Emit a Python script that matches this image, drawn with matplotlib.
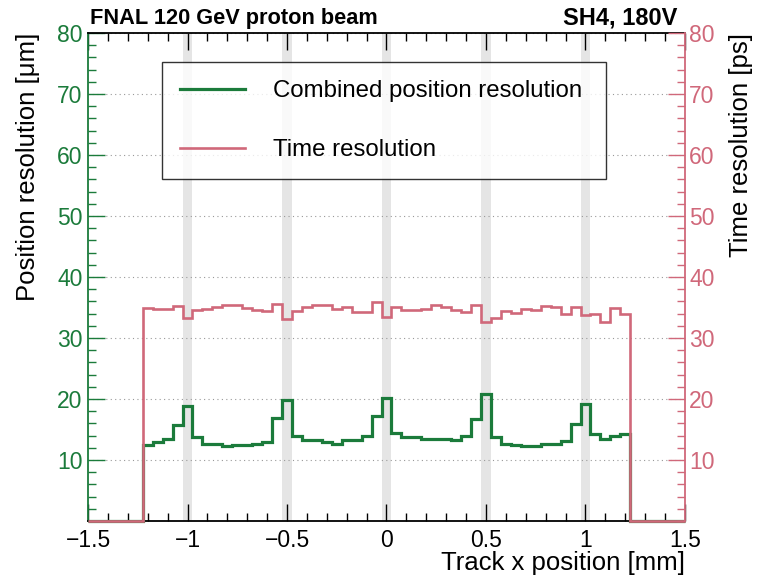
import matplotlib.pyplot as plt
import numpy as np
from matplotlib.ticker import MultipleLocator
from matplotlib.lines import Line2D

plt.rcParams['font.family'] = ['Liberation Sans', 'DejaVu Sans']

# bins of 0.05 mm from -1.225 to 1.225, zero outside
bin_lo = -1.225
bin_w = 0.05

pos_res = [12.5, 12.9, 13.4, 15.8, 18.9, 13.8, 12.6, 12.7, 12.35, 12.5,
           12.5, 12.7, 12.9, 16.9, 19.8, 14.0, 13.3, 13.3, 12.95, 12.7,
           13.2, 13.3, 13.9, 17.2, 20.2, 14.5, 13.8, 13.75, 13.5, 13.4,
           13.4, 13.3, 13.9, 16.7, 20.75, 13.8, 12.6, 12.5, 12.35, 12.3,
           12.6, 12.7, 13.15, 15.95, 19.1, 14.25, 13.4, 14.0, 14.2]

time_res = [34.85, 34.7, 34.7, 35.2, 33.35, 34.65, 34.75, 35.05, 35.45, 35.4,
            34.85, 34.55, 34.5, 35.6, 33.1, 34.5, 35.1, 35.35, 35.4, 34.7,
            35.0, 34.25, 34.25, 35.9, 33.4, 35.0, 34.6, 34.6, 34.75, 35.35,
            35.0, 34.6, 34.25, 35.4, 32.7, 33.2, 34.4, 34.15, 34.75, 34.6,
            35.2, 35.0, 33.9, 35.1, 33.8, 34.0, 32.7, 34.85, 34.0]

labels = ['Combined position resolution', 'Time resolution']
gap_centers = [-1.0, -0.5, 0.0, 0.5, 1.0]
gap_width = 0.05

green = '#1b7b3b'
pink = '#d0687a'

n = len(pos_res)
edges = np.concatenate([[-1.5], bin_lo + bin_w * np.arange(n + 1), [1.5]])
pos_vals = np.concatenate([[0], pos_res, [0]])
time_vals = np.concatenate([[0], time_res, [0]])

fig = plt.figure(figsize=(7.6, 5.79), dpi=100)
ax = fig.add_axes([0.1158, 0.1002, 0.7855, 0.8428])
ax2 = ax.twinx()

for c in gap_centers:
    ax.axvspan(c - gap_width / 2, c + gap_width / 2, color='#e5e5e5', lw=0, zorder=0)

ax.yaxis.grid(True, linestyle=(0, (1, 3)), color='#999999', lw=0.8)
ax.set_axisbelow(True)

ax.stairs(pos_vals, edges, color=green, lw=2.3, clip_on=False, zorder=3)
ax2.stairs(time_vals, edges, color=pink, lw=1.9, clip_on=False, zorder=3)

ax.set_xlim(-1.5, 1.5)
ax.set_ylim(0, 80)
ax2.set_ylim(0, 80)

ax.set_xticks([-1.5, -1, -0.5, 0, 0.5, 1, 1.5])
ax.set_xticklabels(['\u22121.5', '\u22121', '\u22120.5', '0', '0.5', '1', '1.5'])
ax.xaxis.set_minor_locator(MultipleLocator(0.1))

yt = list(range(10, 81, 10))
for a in (ax, ax2):
    a.set_yticks(yt)
    a.set_yticklabels([str(v) for v in yt])
    a.yaxis.set_minor_locator(MultipleLocator(2))

fs_tick = 16.5
ax.tick_params(axis='x', which='both', direction='in', top=True, labelsize=fs_tick, pad=6, width=1)
ax.tick_params(axis='x', which='major', length=12)
ax.tick_params(axis='x', which='minor', length=6)
ax.tick_params(axis='y', which='both', direction='in', colors=green, labelsize=fs_tick, pad=4, width=1)
ax.tick_params(axis='y', which='major', length=12)
ax.tick_params(axis='y', which='minor', length=6)
ax2.tick_params(axis='y', which='both', direction='in', colors=pink, labelsize=fs_tick, pad=3, width=1)
ax2.tick_params(axis='y', which='major', length=12)
ax2.tick_params(axis='y', which='minor', length=6)

for s in ('top', 'bottom'):
    ax.spines[s].set_linewidth(1.3)
ax.spines['left'].set_color(green)
ax.spines['left'].set_linewidth(1.3)
ax.spines['right'].set_visible(False)
ax2.spines['left'].set_visible(False)
ax2.spines['top'].set_visible(False)
ax2.spines['bottom'].set_visible(False)
ax2.spines['right'].set_color(pink)
ax2.spines['right'].set_linewidth(1.3)

ax.set_ylabel('Position resolution [\u03bcm]', fontsize=18.5, loc='top')
ax.yaxis.set_label_coords(-0.08, 1.0)
ax2.set_ylabel('Time resolution [ps]', fontsize=18.5, loc='top', rotation=90)
ax2.yaxis.set_label_coords(1.074, 1.0)
ax.set_xlabel('Track x position [mm]', fontsize=18.5, loc='right')
ax.xaxis.set_label_coords(1.0, -0.062)

ax.text(0.004, 1.008, 'FNAL 120 GeV proton beam', transform=ax.transAxes,
        fontsize=15.7, fontweight='bold', ha='left', va='bottom')
ax.text(0.987, 1.008, 'SH4, 180V', transform=ax.transAxes,
        fontsize=17, fontweight='bold', ha='right', va='bottom')

handles = [Line2D([], [], color=green, lw=2.3), Line2D([], [], color=pink, lw=1.9)]
leg = ax2.legend(handles, labels, loc='upper left', mode='expand',
                 bbox_to_anchor=(0.124, 0.707, 0.744, 0.2336), borderaxespad=0,
                 fontsize=17.3, frameon=True, fancybox=False, edgecolor='black',
                 handlelength=2.7, handletextpad=1.15, borderpad=0.75, labelspacing=1.55)
leg.get_frame().set_linewidth(1.0)

fig.savefig('out.png', dpi=100)
